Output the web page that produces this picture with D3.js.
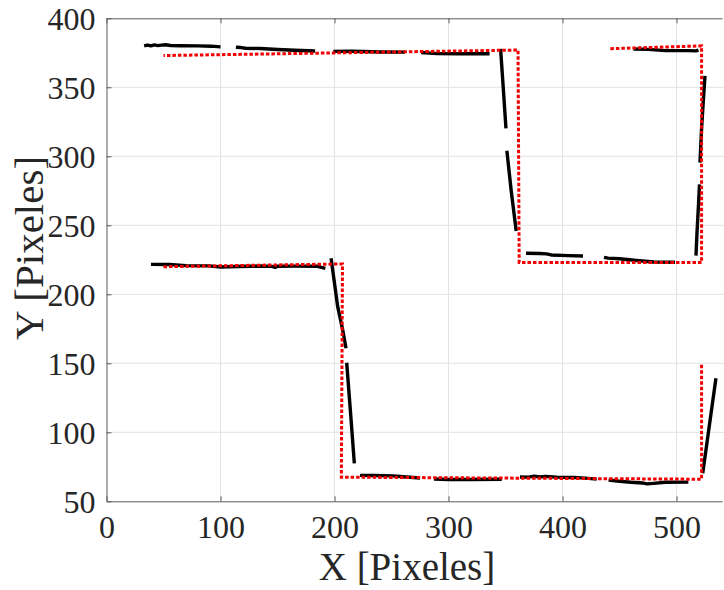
<!DOCTYPE html>
<html>
<head>
<meta charset="utf-8">
<script src="https://cdn.jsdelivr.net/npm/d3@7"></script>
<style>
  body { margin: 0; background: #fff; }
  svg { display: block; }
  .tick text { font-family: "Liberation Serif", "Times New Roman", serif; }
</style>
</head>
<body>
<svg width="724" height="590"></svg>
<script>
// DATA
var xTicks = [0, 100, 200, 300, 400, 500];
var yTicks = [50, 100, 150, 200, 250, 300, 350, 400];

// reference path (red dotted)
var refUpper = [[442, 378], [522, 380], [522, 223], [362, 223], [361, 377], [50, 373]];
var refLower = [[50, 220], [207, 222], [206, 67.5], [522, 66], [522, 149]];

// detected segments (black)
var segTopLeft = [[33, 380], [36, 380.6], [39, 380], [42, 380.7], [45, 380.2], [48, 380.6], [52, 380.8], [56, 380.3], [65, 380.1], [80, 380], [92, 379.8], [100, 379.3]];
var segTop2 = [[113.5, 379], [118, 378.8], [122, 378.3], [135, 378.1], [150, 377.4], [165, 376.8], [183, 376.3]];
var segTop3 = [[199, 376], [215, 376.1], [225, 375.9], [240, 375.6], [262, 375.5]];
var segTop4 = [[276, 375.2], [290, 374.4], [310, 374.3], [336, 374.3]];
var segDrop1 = [[345.7, 377.8], [348, 350], [350.4, 320.3]];
var segDrop2 = [[351.2, 304], [355, 275], [359.4, 245.9]];
var segMid1 = [[368, 229.8], [380, 229.6], [386, 229.3], [390, 228.5], [405, 228], [418, 227.8]];
var segMid2 = [[436.4, 226.8], [440, 226.2], [450, 225.8], [465, 224.5], [480, 223.4], [498.7, 223.2]];
var segRise1 = [[517.1, 228], [518, 245], [519.3, 265], [520.2, 279.7]];
var segRise2 = [[520.6, 295.4], [522, 320], [523.5, 340], [525, 358.2]];
var segTopRight = [[462.2, 377.8], [475, 377.5], [490, 376.6], [510, 376.6], [517, 376.4], [519.3, 377]];
var segLowLeft = [[39, 221.7], [55, 221.6], [70, 220.8], [90, 220.6], [100, 219.8], [115, 220.1], [126, 220.3], [135, 220.5], [145, 220.2], [148, 219.5], [150, 220.3], [165, 220.4], [185, 220.3], [192, 218.8]];
var segFall1 = [[197, 226.1], [200, 208], [202.8, 191], [207, 175], [210.1, 160.9]];
var segFall2 = [[210.7, 150.4], [214, 115], [217.4, 77.5]];
var segBot1 = [[222.4, 68.8], [235, 68.7], [251.6, 68.4], [260, 67.8], [275, 66.9]];
var segBot2 = [[287.3, 66.2], [300, 65.8], [320, 65.8], [346.7, 66]];
var segBot3 = [[362.7, 67.6], [370, 67.5], [375, 68.2], [380, 67.6], [385, 68.1], [395, 67.5], [410, 67.3], [420, 66.8], [430, 66.1]];
var segBot4 = [[440.4, 65.4], [450, 64.5], [460, 63.8], [470, 63.3], [474, 62.6], [480, 63], [490, 63.8], [510.4, 63.9]];
var segEnd = [[523, 70.3], [528, 100], [534.6, 139.1]];

var detected = [segTopLeft, segTop2, segTop3, segTop4, segDrop1, segDrop2, segMid1, segMid2,
    segRise1, segRise2, segTopRight, segLowLeft, segFall1, segFall2, segBot1, segBot2,
    segBot3, segBot4, segEnd];

// SVG PARAMETERS
var svg = d3.select("svg");
var margin = {left: 106.5, top: 18.3};
var x = d3.scaleLinear().domain([0, 540]).range([margin.left, margin.left + 540 * 1.14]);
var y = d3.scaleLinear().domain([50, 400]).range([501.3, margin.top]);
var textColor = "#262626";
var axisColor = "#5a5a5a";
var serif = "'Liberation Serif', 'Times New Roman', serif";

// GRID
var grid = svg.append("g").attr("class", "grid");
grid.selectAll(".gx")
    .data(xTicks.slice(1))
    .enter().append("line")
    .attr("x1", function(d) { return x(d); })
    .attr("x2", function(d) { return x(d); })
    .attr("y1", y(50))
    .attr("y2", y(400))
    .attr("stroke", "#e3e3e3")
    .attr("stroke-width", 1);
grid.selectAll(".gy")
    .data(yTicks.slice(1, -1))
    .enter().append("line")
    .attr("y1", function(d) { return y(d); })
    .attr("y2", function(d) { return y(d); })
    .attr("x1", x(0))
    .attr("x2", 724)
    .attr("stroke", "#e3e3e3")
    .attr("stroke-width", 1);

// AXES
var xAxis = svg.append("g")
    .attr("transform", "translate(0," + y(50) + ")")
    .call(d3.axisBottom(x).tickValues(xTicks).tickSizeInner(-5).tickSizeOuter(0).tickPadding(14));
var xTop = svg.append("g")
    .attr("transform", "translate(0," + y(400) + ")")
    .call(d3.axisTop(x).tickValues(xTicks).tickSizeInner(-5).tickSizeOuter(0).tickFormat(""));
var yAxis = svg.append("g")
    .attr("transform", "translate(" + x(0) + ",0)")
    .call(d3.axisLeft(y).tickValues(yTicks).tickSizeInner(-5).tickSizeOuter(0).tickPadding(11));

[xAxis, xTop, yAxis].forEach(function(a) {
    a.attr("font-family", serif);
    a.select(".domain").attr("stroke", axisColor).attr("stroke-width", 1);
    a.selectAll(".tick line").attr("stroke", axisColor);
    a.selectAll(".tick text")
        .attr("fill", textColor)
        .style("font-size", "32px");
});
xAxis.selectAll(".tick text").attr("dy", "0.71em");
yAxis.selectAll(".tick text").attr("dy", "0.35em");

// LABELS
svg.append("text")
    .attr("x", 407)
    .attr("y", 580)
    .attr("text-anchor", "middle")
    .attr("fill", textColor)
    .style("font-family", serif)
    .style("font-size", "39px")
    .text("X [Pixeles]");
svg.append("text")
    .attr("transform", "translate(43,248) rotate(-90)")
    .attr("text-anchor", "middle")
    .attr("fill", textColor)
    .style("font-family", serif)
    .style("font-size", "41px")
    .text("Y [Pixeles]");

// LINES
var line = d3.line()
    .x(function(d) { return x(d[0]); })
    .y(function(d) { return y(d[1]); });

svg.append("g").attr("class", "detected")
    .selectAll("path")
    .data(detected)
    .enter().append("path")
    .attr("d", line)
    .attr("fill", "none")
    .attr("stroke", "#000")
    .attr("stroke-width", 3.4)
    .attr("stroke-linejoin", "round");

svg.append("g").attr("class", "reference")
    .selectAll("path")
    .data([refUpper, refLower])
    .enter().append("path")
    .attr("d", line)
    .attr("fill", "none")
    .attr("stroke", "#f00000")
    .attr("stroke-width", 3)
    .attr("stroke-dasharray", "3.5 2");
</script>
</body>
</html>
